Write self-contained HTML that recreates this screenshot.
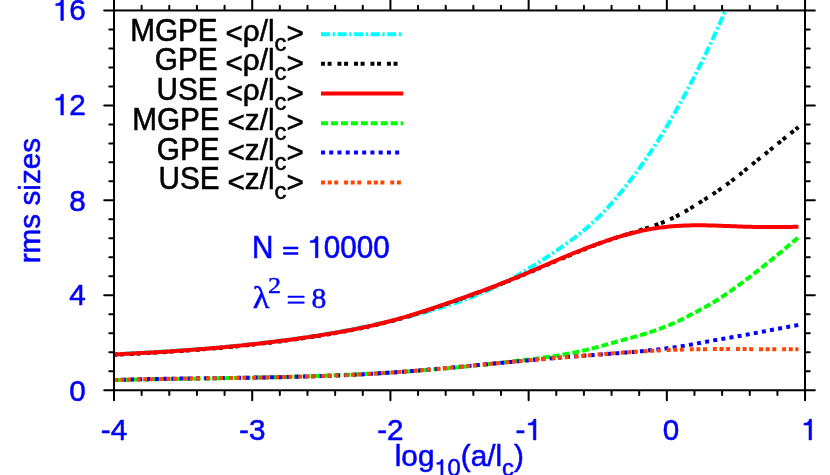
<!DOCTYPE html>
<html><head><meta charset="utf-8"><title>rms sizes</title>
<style>
html,body{margin:0;padding:0;background:#fff;overflow:hidden}
svg{display:block;will-change:transform}
text{font-kerning:none;font-family:"Liberation Sans",sans-serif;font-size:29.7px;stroke-width:0.55px;stroke-linejoin:round}
.ser{font-family:"Liberation Serif",serif;stroke-width:0.45px}
.h,.g{fill:none;stroke:none}
.one{stroke-width:0.55px;stroke-linejoin:round}
</style></head>
<body>
<svg width="830" height="475" viewBox="0 0 830 475">
<rect width="830" height="475" fill="#fff"/>
<g stroke-linecap="butt" stroke-linejoin="round">
<path d="M113.6 354.22 L115.6 354.12 L117.6 354.03 L119.6 353.93 L121.6 353.84 L123.6 353.74 L125.6 353.64 L127.6 353.54 L129.6 353.44 L131.6 353.34 L133.6 353.23 L135.6 353.13 L137.6 353.02 L139.6 352.92 L141.6 352.81 L143.6 352.70 L145.6 352.59 L147.6 352.48 L149.6 352.36 L151.6 352.25 L153.6 352.13 L155.6 352.02 L157.6 351.90 L159.6 351.78 L161.6 351.65 L163.6 351.53 L165.6 351.41 L167.6 351.28 L169.6 351.15 L171.6 351.02 L173.6 350.89 L175.6 350.76 L177.6 350.62 L179.6 350.49 L181.6 350.35 L183.6 350.21 L185.6 350.07 L187.6 349.92 L189.6 349.78 L191.6 349.63 L193.6 349.48 L195.6 349.33 L197.6 349.17 L199.6 349.02 L201.6 348.86 L203.6 348.70 L205.6 348.54 L207.6 348.38 L209.6 348.21 L211.6 348.04 L213.6 347.87 L215.6 347.70 L217.6 347.53 L219.6 347.35 L221.6 347.17 L223.6 346.99 L225.6 346.81 L227.6 346.62 L229.6 346.43 L231.6 346.24 L233.6 346.05 L235.6 345.85 L237.6 345.65 L239.6 345.45 L241.6 345.25 L243.6 345.04 L245.6 344.83 L247.6 344.62 L249.6 344.41 L251.6 344.19 L253.6 343.97 L255.6 343.75 L257.6 343.52 L259.6 343.30 L261.6 343.07 L263.6 342.83 L265.6 342.60 L267.6 342.36 L269.6 342.12 L271.6 341.87 L273.6 341.62 L275.6 341.37 L277.6 341.12 L279.6 340.86 L281.6 340.60 L283.6 340.34 L285.6 340.07 L287.6 339.80 L289.6 339.53 L291.6 339.25 L293.6 338.97 L295.6 338.69 L297.6 338.41 L299.6 338.12 L301.6 337.82 L303.6 337.53 L305.6 337.23 L307.6 336.93 L309.6 336.62 L311.6 336.31 L313.6 336.00 L315.6 335.68 L317.6 335.36 L319.6 335.04 L321.6 334.71 L323.6 334.38 L325.6 334.04 L327.6 333.71 L329.6 333.36 L331.6 333.02 L333.6 332.67 L335.6 332.31 L337.6 331.96 L339.6 331.60 L341.6 331.23 L343.6 330.86 L345.6 330.49 L347.6 330.11 L349.6 329.73 L351.6 329.35 L353.6 328.96 L355.6 328.57 L357.6 328.17 L359.6 327.77 L361.6 327.36 L363.6 326.95 L365.6 326.54 L367.6 326.12 L369.6 325.70 L371.6 325.27 L373.6 324.84 L375.6 324.41 L377.6 323.97 L379.6 323.53 L381.6 323.08 L383.6 322.63 L385.6 322.17 L387.6 321.71 L389.6 321.24 L391.6 320.77 L393.6 320.30 L395.6 319.82 L397.6 319.33 L399.6 318.84 L401.6 318.35 L403.6 317.85 L405.6 317.35 L407.6 316.84 L409.6 316.33 L411.6 315.81 L413.6 315.29 L415.6 314.76 L417.6 314.23 L419.6 313.70 L421.6 313.16 L423.6 312.61 L425.6 312.06 L427.6 311.50 L429.6 310.94 L431.6 310.37 L433.6 309.80 L435.6 309.22 L437.6 308.63 L439.6 308.03 L441.6 307.43 L443.6 306.82 L445.6 306.20 L447.6 305.57 L449.6 304.94 L451.6 304.29 L453.6 303.63 L455.6 302.96 L457.6 302.29 L459.6 301.60 L461.6 300.90 L463.6 300.19 L465.6 299.46 L467.6 298.73 L469.6 297.98 L471.6 297.22 L473.6 296.44 L475.6 295.65 L477.6 294.85 L479.6 294.03 L481.6 293.19 L483.6 292.34 L485.6 291.48 L487.6 290.60 L489.6 289.70 L491.6 288.78 L493.6 287.85 L495.6 286.90 L497.6 285.93 L499.6 284.95 L501.6 283.94 L503.6 282.92 L505.6 281.87 L507.6 280.81 L509.6 279.73 L511.6 278.63 L513.6 277.51 L515.6 276.37 L517.6 275.22 L519.6 274.06 L521.6 272.88 L523.6 271.69 L525.6 270.49 L527.6 269.28 L529.6 268.05 L531.6 266.82 L533.6 265.58 L535.6 264.34 L537.6 263.08 L539.6 261.81 L541.6 260.53 L543.6 259.25 L545.6 257.95 L547.6 256.64 L549.6 255.32 L551.6 253.99 L553.6 252.65 L555.6 251.30 L557.6 249.93 L559.6 248.55 L561.6 247.16 L563.6 245.76 L565.6 244.35 L567.6 242.92 L569.6 241.47 L571.6 240.00 L573.6 238.51 L575.6 237.00 L577.6 235.46 L579.6 233.89 L581.6 232.29 L583.6 230.66 L585.6 229.00 L587.6 227.29 L589.6 225.55 L591.6 223.77 L593.6 221.94 L595.6 220.07 L597.6 218.14 L599.6 216.17 L601.6 214.15 L603.6 212.07 L605.6 209.95 L607.6 207.77 L609.6 205.56 L611.6 203.29 L613.6 200.99 L615.6 198.65 L617.6 196.26 L619.6 193.85 L621.6 191.40 L623.6 188.91 L625.6 186.40 L627.6 183.86 L629.6 181.28 L631.6 178.67 L633.6 176.03 L635.6 173.36 L637.6 170.64 L639.6 167.89 L641.6 165.10 L643.6 162.28 L645.6 159.41 L647.6 156.50 L649.6 153.54 L651.6 150.54 L653.6 147.51 L655.6 144.42 L657.6 141.30 L659.6 138.14 L661.6 134.93 L663.6 131.68 L665.6 128.39 L667.6 125.06 L669.6 121.69 L671.6 118.28 L673.6 114.83 L675.6 111.34 L677.6 107.80 L679.6 104.23 L681.6 100.61 L683.6 96.96 L685.6 93.27 L687.6 89.53 L689.6 85.75 L691.6 81.94 L693.6 78.08 L695.6 74.18 L697.6 70.23 L699.6 66.25 L701.6 62.22 L703.6 58.14 L705.6 54.02 L707.6 49.85 L709.6 45.64 L711.6 41.37 L713.6 37.06 L715.6 32.70 L717.6 28.29 L719.6 23.82 L721.6 19.31 L723.6 14.74 L725.0 11.50" stroke="#00ffff" stroke-width="4.0" stroke-dasharray="9 2.65 2.3 2.65" stroke-dashoffset="4.1" fill="none"/>
<path d="M113.6 354.76 L115.6 354.67 L117.6 354.58 L119.6 354.49 L121.6 354.40 L123.6 354.30 L125.6 354.21 L127.6 354.11 L129.6 354.01 L131.6 353.92 L133.6 353.81 L135.6 353.71 L137.6 353.61 L139.6 353.50 L141.6 353.40 L143.6 353.29 L145.6 353.18 L147.6 353.07 L149.6 352.96 L151.6 352.84 L153.6 352.73 L155.6 352.61 L157.6 352.49 L159.6 352.37 L161.6 352.25 L163.6 352.13 L165.6 352.00 L167.6 351.87 L169.6 351.74 L171.6 351.61 L173.6 351.48 L175.6 351.35 L177.6 351.21 L179.6 351.07 L181.6 350.93 L183.6 350.79 L185.6 350.65 L187.6 350.50 L189.6 350.35 L191.6 350.21 L193.6 350.05 L195.6 349.90 L197.6 349.75 L199.6 349.59 L201.6 349.43 L203.6 349.27 L205.6 349.10 L207.6 348.94 L209.6 348.77 L211.6 348.60 L213.6 348.43 L215.6 348.25 L217.6 348.08 L219.6 347.90 L221.6 347.72 L223.6 347.53 L225.6 347.35 L227.6 347.16 L229.6 346.97 L231.6 346.78 L233.6 346.58 L235.6 346.39 L237.6 346.19 L239.6 345.98 L241.6 345.78 L243.6 345.57 L245.6 345.36 L247.6 345.15 L249.6 344.94 L251.6 344.72 L253.6 344.50 L255.6 344.28 L257.6 344.05 L259.6 343.83 L261.6 343.60 L263.6 343.36 L265.6 343.13 L267.6 342.89 L269.6 342.65 L271.6 342.41 L273.6 342.16 L275.6 341.91 L277.6 341.66 L279.6 341.41 L281.6 341.15 L283.6 340.89 L285.6 340.63 L287.6 340.36 L289.6 340.09 L291.6 339.82 L293.6 339.55 L295.6 339.27 L297.6 338.99 L299.6 338.71 L301.6 338.42 L303.6 338.13 L305.6 337.84 L307.6 337.54 L309.6 337.24 L311.6 336.94 L313.6 336.64 L315.6 336.33 L317.6 336.02 L319.6 335.70 L321.6 335.39 L323.6 335.06 L325.6 334.74 L327.6 334.41 L329.6 334.08 L331.6 333.75 L333.6 333.41 L335.6 333.06 L337.6 332.71 L339.6 332.36 L341.6 332.00 L343.6 331.64 L345.6 331.27 L347.6 330.90 L349.6 330.52 L351.6 330.14 L353.6 329.75 L355.6 329.35 L357.6 328.95 L359.6 328.55 L361.6 328.13 L363.6 327.71 L365.6 327.29 L367.6 326.85 L369.6 326.41 L371.6 325.97 L373.6 325.51 L375.6 325.05 L377.6 324.58 L379.6 324.10 L381.6 323.62 L383.6 323.13 L385.6 322.63 L387.6 322.12 L389.6 321.60 L391.6 321.07 L393.6 320.54 L395.6 320.00 L397.6 319.45 L399.6 318.89 L401.6 318.32 L403.6 317.75 L405.6 317.17 L407.6 316.58 L409.6 315.98 L411.6 315.38 L413.6 314.77 L415.6 314.16 L417.6 313.53 L419.6 312.91 L421.6 312.27 L423.6 311.63 L425.6 310.99 L427.6 310.34 L429.6 309.68 L431.6 309.02 L433.6 308.36 L435.6 307.69 L437.6 307.01 L439.6 306.33 L441.6 305.65 L443.6 304.96 L445.6 304.27 L447.6 303.58 L449.6 302.88 L451.6 302.18 L453.6 301.47 L455.6 300.77 L457.6 300.06 L459.6 299.35 L461.6 298.63 L463.6 297.91 L465.6 297.20 L467.6 296.47 L469.6 295.75 L471.6 295.02 L473.6 294.29 L475.6 293.56 L477.6 292.82 L479.6 292.08 L481.6 291.34 L483.6 290.59 L485.6 289.85 L487.6 289.09 L489.6 288.33 L491.6 287.57 L493.6 286.81 L495.6 286.04 L497.6 285.27 L499.6 284.49 L501.6 283.71 L503.6 282.92 L505.6 282.13 L507.6 281.34 L509.6 280.53 L511.6 279.73 L513.6 278.92 L515.6 278.10 L517.6 277.28 L519.6 276.46 L521.6 275.63 L523.6 274.80 L525.6 273.96 L527.6 273.12 L529.6 272.28 L531.6 271.43 L533.6 270.58 L535.6 269.73 L537.6 268.88 L539.6 268.03 L541.6 267.18 L543.6 266.32 L545.6 265.47 L547.6 264.61 L549.6 263.76 L551.6 262.91 L553.6 262.05 L555.6 261.20 L557.6 260.35 L559.6 259.50 L561.6 258.66 L563.6 257.82 L565.6 256.98 L567.6 256.14 L569.6 255.31 L571.6 254.48 L573.6 253.65 L575.6 252.83 L577.6 252.02 L579.6 251.21 L581.6 250.41 L583.6 249.61 L585.6 248.81 L587.6 248.03 L589.6 247.25 L591.6 246.48 L593.6 245.72 L595.6 244.96 L597.6 244.21 L599.6 243.47 L601.6 242.74 L603.6 242.02 L605.6 241.31 L607.6 240.61 L609.6 239.91 L611.6 239.23 L613.6 238.56 L615.6 237.90 L617.6 237.25 L619.6 236.61 L621.6 235.98 L623.6 235.35 L625.6 234.73 L627.6 234.11 L629.6 233.50 L631.6 232.88 L633.6 232.26 L635.6 231.65 L637.6 231.02 L639.6 230.40 L641.6 229.77 L643.6 229.13 L645.6 228.48 L647.6 227.82 L649.6 227.15 L651.6 226.47 L653.6 225.77 L655.6 225.06 L657.6 224.33 L659.6 223.59 L661.6 222.82 L663.6 222.03 L665.6 221.21 L667.6 220.36 L669.6 219.48 L671.6 218.57 L673.6 217.63 L675.6 216.64 L677.6 215.62 L679.6 214.56 L681.6 213.47 L683.6 212.35 L685.6 211.20 L687.6 210.03 L689.6 208.84 L691.6 207.63 L693.6 206.40 L695.6 205.15 L697.6 203.90 L699.6 202.64 L701.6 201.37 L703.6 200.10 L705.6 198.83 L707.6 197.55 L709.6 196.27 L711.6 194.97 L713.6 193.67 L715.6 192.34 L717.6 191.00 L719.6 189.64 L721.6 188.26 L723.6 186.85 L725.6 185.41 L727.6 183.95 L729.6 182.47 L731.6 180.96 L733.6 179.43 L735.6 177.87 L737.6 176.29 L739.6 174.69 L741.6 173.06 L743.6 171.43 L745.6 169.79 L747.6 168.15 L749.6 166.51 L751.6 164.89 L753.6 163.27 L755.6 161.66 L757.6 160.05 L759.6 158.45 L761.6 156.84 L763.6 155.24 L765.6 153.63 L767.6 152.02 L769.6 150.40 L771.6 148.78 L773.6 147.15 L775.6 145.53 L777.6 143.90 L779.6 142.28 L781.6 140.65 L783.6 139.03 L785.6 137.41 L787.6 135.79 L789.6 134.18 L791.6 132.58 L793.6 130.98 L795.6 129.40 L797.6 127.82 L798.4 127.19" stroke="#000" stroke-width="4.0" stroke-dasharray="3.95 2.67 3.95 5.92" fill="none"/>
<path d="M113.6 354.41 L115.6 354.32 L117.6 354.23 L119.6 354.14 L121.6 354.05 L123.6 353.95 L125.6 353.86 L127.6 353.76 L129.6 353.67 L131.6 353.57 L133.6 353.47 L135.6 353.37 L137.6 353.26 L139.6 353.16 L141.6 353.05 L143.6 352.94 L145.6 352.84 L147.6 352.72 L149.6 352.61 L151.6 352.50 L153.6 352.38 L155.6 352.27 L157.6 352.15 L159.6 352.03 L161.6 351.90 L163.6 351.78 L165.6 351.65 L167.6 351.53 L169.6 351.40 L171.6 351.27 L173.6 351.13 L175.6 351.00 L177.6 350.86 L179.6 350.73 L181.6 350.59 L183.6 350.44 L185.6 350.30 L187.6 350.15 L189.6 350.01 L191.6 349.86 L193.6 349.71 L195.6 349.55 L197.6 349.40 L199.6 349.24 L201.6 349.08 L203.6 348.92 L205.6 348.75 L207.6 348.59 L209.6 348.42 L211.6 348.25 L213.6 348.08 L215.6 347.90 L217.6 347.72 L219.6 347.55 L221.6 347.36 L223.6 347.18 L225.6 347.00 L227.6 346.81 L229.6 346.62 L231.6 346.42 L233.6 346.23 L235.6 346.03 L237.6 345.83 L239.6 345.63 L241.6 345.42 L243.6 345.22 L245.6 345.01 L247.6 344.80 L249.6 344.58 L251.6 344.36 L253.6 344.14 L255.6 343.92 L257.6 343.70 L259.6 343.47 L261.6 343.24 L263.6 343.01 L265.6 342.77 L267.6 342.54 L269.6 342.29 L271.6 342.05 L273.6 341.81 L275.6 341.56 L277.6 341.31 L279.6 341.05 L281.6 340.79 L283.6 340.53 L285.6 340.27 L287.6 340.01 L289.6 339.74 L291.6 339.47 L293.6 339.19 L295.6 338.92 L297.6 338.64 L299.6 338.35 L301.6 338.07 L303.6 337.78 L305.6 337.49 L307.6 337.19 L309.6 336.89 L311.6 336.59 L313.6 336.29 L315.6 335.98 L317.6 335.67 L319.6 335.36 L321.6 335.04 L323.6 334.72 L325.6 334.40 L327.6 334.07 L329.6 333.74 L331.6 333.40 L333.6 333.06 L335.6 332.72 L337.6 332.37 L339.6 332.02 L341.6 331.66 L343.6 331.30 L345.6 330.94 L347.6 330.56 L349.6 330.19 L351.6 329.80 L353.6 329.41 L355.6 329.02 L357.6 328.62 L359.6 328.21 L361.6 327.80 L363.6 327.38 L365.6 326.95 L367.6 326.52 L369.6 326.08 L371.6 325.63 L373.6 325.18 L375.6 324.71 L377.6 324.24 L379.6 323.77 L381.6 323.28 L383.6 322.79 L385.6 322.28 L387.6 321.77 L389.6 321.25 L391.6 320.73 L393.6 320.19 L395.6 319.64 L397.6 319.09 L399.6 318.53 L401.6 317.96 L403.6 317.38 L405.6 316.80 L407.6 316.21 L409.6 315.61 L411.6 315.01 L413.6 314.39 L415.6 313.78 L417.6 313.15 L419.6 312.52 L421.6 311.88 L423.6 311.24 L425.6 310.60 L427.6 309.94 L429.6 309.29 L431.6 308.62 L433.6 307.96 L435.6 307.29 L437.6 306.61 L439.6 305.93 L441.6 305.25 L443.6 304.56 L445.6 303.87 L447.6 303.18 L449.6 302.48 L451.6 301.78 L453.6 301.08 L455.6 300.38 L457.6 299.67 L459.6 298.97 L461.6 298.26 L463.6 297.55 L465.6 296.83 L467.6 296.12 L469.6 295.40 L471.6 294.68 L473.6 293.96 L475.6 293.23 L477.6 292.50 L479.6 291.77 L481.6 291.03 L483.6 290.30 L485.6 289.55 L487.6 288.81 L489.6 288.05 L491.6 287.30 L493.6 286.54 L495.6 285.78 L497.6 285.01 L499.6 284.23 L501.6 283.45 L503.6 282.67 L505.6 281.88 L507.6 281.08 L509.6 280.28 L511.6 279.48 L513.6 278.66 L515.6 277.84 L517.6 277.02 L519.6 276.18 L521.6 275.35 L523.6 274.51 L525.6 273.66 L527.6 272.81 L529.6 271.96 L531.6 271.10 L533.6 270.24 L535.6 269.38 L537.6 268.51 L539.6 267.65 L541.6 266.78 L543.6 265.91 L545.6 265.05 L547.6 264.18 L549.6 263.32 L551.6 262.45 L553.6 261.59 L555.6 260.73 L557.6 259.88 L559.6 259.02 L561.6 258.17 L563.6 257.33 L565.6 256.49 L567.6 255.66 L569.6 254.83 L571.6 254.01 L573.6 253.20 L575.6 252.39 L577.6 251.59 L579.6 250.79 L581.6 250.00 L583.6 249.22 L585.6 248.45 L587.6 247.68 L589.6 246.92 L591.6 246.17 L593.6 245.42 L595.6 244.69 L597.6 243.96 L599.6 243.24 L601.6 242.53 L603.6 241.83 L605.6 241.14 L607.6 240.45 L609.6 239.78 L611.6 239.12 L613.6 238.47 L615.6 237.84 L617.6 237.21 L619.6 236.60 L621.6 236.00 L623.6 235.41 L625.6 234.84 L627.6 234.28 L629.6 233.74 L631.6 233.21 L633.6 232.70 L635.6 232.20 L637.6 231.72 L639.6 231.26 L641.6 230.81 L643.6 230.38 L645.6 229.97 L647.6 229.58 L649.6 229.21 L651.6 228.86 L653.6 228.53 L655.6 228.21 L657.6 227.92 L659.6 227.64 L661.6 227.38 L663.6 227.14 L665.6 226.91 L667.6 226.70 L669.6 226.51 L671.6 226.33 L673.6 226.17 L675.6 226.03 L677.6 225.89 L679.6 225.78 L681.6 225.67 L683.6 225.58 L685.6 225.51 L687.6 225.45 L689.6 225.39 L691.6 225.36 L693.6 225.33 L695.6 225.31 L697.6 225.30 L699.6 225.31 L701.6 225.32 L703.6 225.34 L705.6 225.37 L707.6 225.41 L709.6 225.45 L711.6 225.50 L713.6 225.55 L715.6 225.61 L717.6 225.68 L719.6 225.75 L721.6 225.82 L723.6 225.89 L725.6 225.96 L727.6 226.04 L729.6 226.12 L731.6 226.20 L733.6 226.27 L735.6 226.35 L737.6 226.42 L739.6 226.50 L741.6 226.56 L743.6 226.63 L745.6 226.69 L747.6 226.75 L749.6 226.80 L751.6 226.85 L753.6 226.89 L755.6 226.93 L757.6 226.97 L759.6 227.00 L761.6 227.02 L763.6 227.04 L765.6 227.06 L767.6 227.07 L769.6 227.08 L771.6 227.08 L773.6 227.08 L775.6 227.08 L777.6 227.07 L779.6 227.05 L781.6 227.04 L783.6 227.02 L785.6 226.99 L787.6 226.96 L789.6 226.93 L791.6 226.89 L793.6 226.85 L795.6 226.81 L797.6 226.76 L798.4 226.74" stroke="#ff0000" stroke-width="4.0" fill="none"/>
<path d="M113.6 380.00 L115.6 379.96 L117.6 379.92 L119.6 379.88 L121.6 379.84 L123.6 379.80 L125.6 379.76 L127.6 379.73 L129.6 379.69 L131.6 379.65 L133.6 379.62 L135.6 379.58 L137.6 379.55 L139.6 379.51 L141.6 379.48 L143.6 379.44 L145.6 379.41 L147.6 379.38 L149.6 379.34 L151.6 379.31 L153.6 379.28 L155.6 379.25 L157.6 379.22 L159.6 379.18 L161.6 379.15 L163.6 379.12 L165.6 379.09 L167.6 379.06 L169.6 379.03 L171.6 379.00 L173.6 378.97 L175.6 378.94 L177.6 378.91 L179.6 378.88 L181.6 378.85 L183.6 378.82 L185.6 378.79 L187.6 378.76 L189.6 378.73 L191.6 378.70 L193.6 378.67 L195.6 378.64 L197.6 378.60 L199.6 378.57 L201.6 378.54 L203.6 378.51 L205.6 378.48 L207.6 378.45 L209.6 378.42 L211.6 378.39 L213.6 378.35 L215.6 378.32 L217.6 378.29 L219.6 378.26 L221.6 378.22 L223.6 378.19 L225.6 378.16 L227.6 378.12 L229.6 378.09 L231.6 378.05 L233.6 378.02 L235.6 377.98 L237.6 377.95 L239.6 377.91 L241.6 377.87 L243.6 377.83 L245.6 377.80 L247.6 377.76 L249.6 377.72 L251.6 377.68 L253.6 377.64 L255.6 377.60 L257.6 377.56 L259.6 377.51 L261.6 377.47 L263.6 377.43 L265.6 377.38 L267.6 377.34 L269.6 377.29 L271.6 377.25 L273.6 377.20 L275.6 377.15 L277.6 377.10 L279.6 377.05 L281.6 377.00 L283.6 376.95 L285.6 376.90 L287.6 376.85 L289.6 376.79 L291.6 376.74 L293.6 376.68 L295.6 376.62 L297.6 376.57 L299.6 376.51 L301.6 376.45 L303.6 376.39 L305.6 376.33 L307.6 376.26 L309.6 376.20 L311.6 376.13 L313.6 376.07 L315.6 376.00 L317.6 375.93 L319.6 375.86 L321.6 375.79 L323.6 375.72 L325.6 375.65 L327.6 375.57 L329.6 375.50 L331.6 375.42 L333.6 375.34 L335.6 375.27 L337.6 375.19 L339.6 375.10 L341.6 375.02 L343.6 374.94 L345.6 374.85 L347.6 374.76 L349.6 374.67 L351.6 374.58 L353.6 374.49 L355.6 374.40 L357.6 374.30 L359.6 374.21 L361.6 374.11 L363.6 374.01 L365.6 373.91 L367.6 373.81 L369.6 373.70 L371.6 373.60 L373.6 373.49 L375.6 373.38 L377.6 373.27 L379.6 373.16 L381.6 373.05 L383.6 372.93 L385.6 372.82 L387.6 372.70 L389.6 372.58 L391.6 372.45 L393.6 372.33 L395.6 372.20 L397.6 372.08 L399.6 371.95 L401.6 371.81 L403.6 371.68 L405.6 371.55 L407.6 371.41 L409.6 371.27 L411.6 371.13 L413.6 370.99 L415.6 370.84 L417.6 370.69 L419.6 370.54 L421.6 370.39 L423.6 370.24 L425.6 370.09 L427.6 369.93 L429.6 369.77 L431.6 369.61 L433.6 369.44 L435.6 369.28 L437.6 369.11 L439.6 368.94 L441.6 368.77 L443.6 368.59 L445.6 368.42 L447.6 368.24 L449.6 368.06 L451.6 367.87 L453.6 367.69 L455.6 367.50 L457.6 367.31 L459.6 367.11 L461.6 366.92 L463.6 366.72 L465.6 366.52 L467.6 366.32 L469.6 366.12 L471.6 365.91 L473.6 365.70 L475.6 365.49 L477.6 365.28 L479.6 365.07 L481.6 364.85 L483.6 364.64 L485.6 364.42 L487.6 364.20 L489.6 363.98 L491.6 363.76 L493.6 363.53 L495.6 363.31 L497.6 363.08 L499.6 362.86 L501.6 362.63 L503.6 362.40 L505.6 362.18 L507.6 361.95 L509.6 361.72 L511.6 361.49 L513.6 361.26 L515.6 361.03 L517.6 360.80 L519.6 360.56 L521.6 360.33 L523.6 360.10 L525.6 359.86 L527.6 359.63 L529.6 359.38 L531.6 359.14 L533.6 358.90 L535.6 358.64 L537.6 358.39 L539.6 358.13 L541.6 357.87 L543.6 357.60 L545.6 357.33 L547.6 357.05 L549.6 356.76 L551.6 356.47 L553.6 356.17 L555.6 355.86 L557.6 355.54 L559.6 355.22 L561.6 354.89 L563.6 354.55 L565.6 354.20 L567.6 353.84 L569.6 353.47 L571.6 353.09 L573.6 352.70 L575.6 352.29 L577.6 351.88 L579.6 351.45 L581.6 351.01 L583.6 350.56 L585.6 350.10 L587.6 349.62 L589.6 349.13 L591.6 348.62 L593.6 348.11 L595.6 347.58 L597.6 347.04 L599.6 346.49 L601.6 345.93 L603.6 345.38 L605.6 344.81 L607.6 344.25 L609.6 343.68 L611.6 343.12 L613.6 342.56 L615.6 342.01 L617.6 341.46 L619.6 340.91 L621.6 340.37 L623.6 339.83 L625.6 339.29 L627.6 338.75 L629.6 338.21 L631.6 337.66 L633.6 337.11 L635.6 336.55 L637.6 335.98 L639.6 335.41 L641.6 334.82 L643.6 334.23 L645.6 333.62 L647.6 332.99 L649.6 332.35 L651.6 331.70 L653.6 331.03 L655.6 330.35 L657.6 329.65 L659.6 328.92 L661.6 328.18 L663.6 327.42 L665.6 326.64 L667.6 325.84 L669.6 325.01 L671.6 324.16 L673.6 323.28 L675.6 322.38 L677.6 321.46 L679.6 320.50 L681.6 319.52 L683.6 318.51 L685.6 317.48 L687.6 316.43 L689.6 315.37 L691.6 314.30 L693.6 313.25 L695.6 312.20 L697.6 311.15 L699.6 310.09 L701.6 309.03 L703.6 307.95 L705.6 306.86 L707.6 305.74 L709.6 304.60 L711.6 303.43 L713.6 302.23 L715.6 301.00 L717.6 299.74 L719.6 298.45 L721.6 297.14 L723.6 295.81 L725.6 294.45 L727.6 293.08 L729.6 291.69 L731.6 290.28 L733.6 288.86 L735.6 287.43 L737.6 285.99 L739.6 284.53 L741.6 283.06 L743.6 281.58 L745.6 280.08 L747.6 278.58 L749.6 277.06 L751.6 275.53 L753.6 274.00 L755.6 272.45 L757.6 270.89 L759.6 269.32 L761.6 267.74 L763.6 266.15 L765.6 264.56 L767.6 262.95 L769.6 261.34 L771.6 259.71 L773.6 258.08 L775.6 256.44 L777.6 254.79 L779.6 253.14 L781.6 251.48 L783.6 249.81 L785.6 248.13 L787.6 246.45 L789.6 244.76 L791.6 243.06 L793.6 241.36 L795.6 239.65 L797.6 237.94 L798.4 237.26" stroke="#00ff00" stroke-width="4.0" stroke-dasharray="7 3" fill="none"/>
<path d="M113.6 380.00 L115.6 379.94 L117.6 379.88 L119.6 379.83 L121.6 379.77 L123.6 379.72 L125.6 379.66 L127.6 379.61 L129.6 379.56 L131.6 379.51 L133.6 379.47 L135.6 379.42 L137.6 379.37 L139.6 379.33 L141.6 379.28 L143.6 379.24 L145.6 379.20 L147.6 379.16 L149.6 379.12 L151.6 379.08 L153.6 379.04 L155.6 379.01 L157.6 378.97 L159.6 378.93 L161.6 378.90 L163.6 378.87 L165.6 378.83 L167.6 378.80 L169.6 378.77 L171.6 378.74 L173.6 378.71 L175.6 378.68 L177.6 378.65 L179.6 378.62 L181.6 378.59 L183.6 378.56 L185.6 378.53 L187.6 378.50 L189.6 378.48 L191.6 378.45 L193.6 378.42 L195.6 378.40 L197.6 378.37 L199.6 378.35 L201.6 378.32 L203.6 378.30 L205.6 378.27 L207.6 378.25 L209.6 378.22 L211.6 378.20 L213.6 378.17 L215.6 378.15 L217.6 378.12 L219.6 378.10 L221.6 378.07 L223.6 378.05 L225.6 378.02 L227.6 378.00 L229.6 377.97 L231.6 377.94 L233.6 377.92 L235.6 377.89 L237.6 377.86 L239.6 377.84 L241.6 377.81 L243.6 377.78 L245.6 377.75 L247.6 377.72 L249.6 377.69 L251.6 377.66 L253.6 377.63 L255.6 377.60 L257.6 377.57 L259.6 377.54 L261.6 377.51 L263.6 377.47 L265.6 377.44 L267.6 377.40 L269.6 377.37 L271.6 377.33 L273.6 377.29 L275.6 377.25 L277.6 377.21 L279.6 377.17 L281.6 377.13 L283.6 377.09 L285.6 377.05 L287.6 377.00 L289.6 376.96 L291.6 376.91 L293.6 376.87 L295.6 376.82 L297.6 376.77 L299.6 376.72 L301.6 376.66 L303.6 376.61 L305.6 376.56 L307.6 376.50 L309.6 376.44 L311.6 376.38 L313.6 376.32 L315.6 376.26 L317.6 376.20 L319.6 376.13 L321.6 376.07 L323.6 376.00 L325.6 375.93 L327.6 375.86 L329.6 375.79 L331.6 375.71 L333.6 375.64 L335.6 375.56 L337.6 375.48 L339.6 375.40 L341.6 375.32 L343.6 375.23 L345.6 375.15 L347.6 375.06 L349.6 374.97 L351.6 374.87 L353.6 374.78 L355.6 374.68 L357.6 374.59 L359.6 374.48 L361.6 374.38 L363.6 374.28 L365.6 374.17 L367.6 374.06 L369.6 373.95 L371.6 373.84 L373.6 373.72 L375.6 373.60 L377.6 373.48 L379.6 373.36 L381.6 373.24 L383.6 373.11 L385.6 372.98 L387.6 372.85 L389.6 372.71 L391.6 372.58 L393.6 372.44 L395.6 372.29 L397.6 372.15 L399.6 372.00 L401.6 371.85 L403.6 371.70 L405.6 371.55 L407.6 371.39 L409.6 371.24 L411.6 371.08 L413.6 370.91 L415.6 370.75 L417.6 370.59 L419.6 370.42 L421.6 370.25 L423.6 370.08 L425.6 369.91 L427.6 369.74 L429.6 369.56 L431.6 369.39 L433.6 369.21 L435.6 369.03 L437.6 368.85 L439.6 368.67 L441.6 368.49 L443.6 368.31 L445.6 368.12 L447.6 367.94 L449.6 367.75 L451.6 367.57 L453.6 367.38 L455.6 367.19 L457.6 367.01 L459.6 366.82 L461.6 366.63 L463.6 366.44 L465.6 366.25 L467.6 366.06 L469.6 365.87 L471.6 365.68 L473.6 365.49 L475.6 365.30 L477.6 365.10 L479.6 364.91 L481.6 364.72 L483.6 364.53 L485.6 364.34 L487.6 364.15 L489.6 363.96 L491.6 363.77 L493.6 363.58 L495.6 363.39 L497.6 363.21 L499.6 363.02 L501.6 362.83 L503.6 362.64 L505.6 362.46 L507.6 362.27 L509.6 362.09 L511.6 361.90 L513.6 361.72 L515.6 361.53 L517.6 361.35 L519.6 361.17 L521.6 360.99 L523.6 360.80 L525.6 360.62 L527.6 360.44 L529.6 360.27 L531.6 360.09 L533.6 359.91 L535.6 359.73 L537.6 359.56 L539.6 359.38 L541.6 359.21 L543.6 359.03 L545.6 358.86 L547.6 358.69 L549.6 358.52 L551.6 358.34 L553.6 358.17 L555.6 358.01 L557.6 357.84 L559.6 357.67 L561.6 357.51 L563.6 357.34 L565.6 357.18 L567.6 357.01 L569.6 356.85 L571.6 356.69 L573.6 356.53 L575.6 356.37 L577.6 356.21 L579.6 356.06 L581.6 355.90 L583.6 355.75 L585.6 355.59 L587.6 355.44 L589.6 355.29 L591.6 355.14 L593.6 354.99 L595.6 354.84 L597.6 354.69 L599.6 354.54 L601.6 354.40 L603.6 354.25 L605.6 354.10 L607.6 353.95 L609.6 353.81 L611.6 353.66 L613.6 353.51 L615.6 353.35 L617.6 353.20 L619.6 353.04 L621.6 352.89 L623.6 352.73 L625.6 352.57 L627.6 352.40 L629.6 352.23 L631.6 352.06 L633.6 351.89 L635.6 351.71 L637.6 351.53 L639.6 351.35 L641.6 351.16 L643.6 350.97 L645.6 350.77 L647.6 350.57 L649.6 350.36 L651.6 350.15 L653.6 349.93 L655.6 349.71 L657.6 349.48 L659.6 349.24 L661.6 349.00 L663.6 348.76 L665.6 348.50 L667.6 348.24 L669.6 347.97 L671.6 347.70 L673.6 347.42 L675.6 347.13 L677.6 346.83 L679.6 346.52 L681.6 346.21 L683.6 345.88 L685.6 345.55 L687.6 345.21 L689.6 344.86 L691.6 344.50 L693.6 344.14 L695.6 343.76 L697.6 343.38 L699.6 343.00 L701.6 342.61 L703.6 342.23 L705.6 341.85 L707.6 341.48 L709.6 341.11 L711.6 340.75 L713.6 340.40 L715.6 340.05 L717.6 339.70 L719.6 339.36 L721.6 339.02 L723.6 338.68 L725.6 338.34 L727.6 338.00 L729.6 337.67 L731.6 337.33 L733.6 336.99 L735.6 336.65 L737.6 336.30 L739.6 335.95 L741.6 335.60 L743.6 335.24 L745.6 334.88 L747.6 334.52 L749.6 334.15 L751.6 333.78 L753.6 333.40 L755.6 333.03 L757.6 332.65 L759.6 332.27 L761.6 331.89 L763.6 331.50 L765.6 331.12 L767.6 330.74 L769.6 330.35 L771.6 329.97 L773.6 329.58 L775.6 329.20 L777.6 328.82 L779.6 328.44 L781.6 328.06 L783.6 327.68 L785.6 327.31 L787.6 326.94 L789.6 326.57 L791.6 326.20 L793.6 325.84 L795.6 325.48 L797.6 325.13 L798.4 324.99" stroke="#0000ff" stroke-width="4.0" stroke-dasharray="4 4.24" fill="none"/>
<path d="M113.6 380.00 L115.6 379.95 L117.6 379.89 L119.6 379.84 L121.6 379.79 L123.6 379.74 L125.6 379.69 L127.6 379.64 L129.6 379.59 L131.6 379.54 L133.6 379.50 L135.6 379.45 L137.6 379.41 L139.6 379.37 L141.6 379.33 L143.6 379.29 L145.6 379.25 L147.6 379.21 L149.6 379.17 L151.6 379.13 L153.6 379.09 L155.6 379.06 L157.6 379.02 L159.6 378.99 L161.6 378.95 L163.6 378.92 L165.6 378.89 L167.6 378.86 L169.6 378.82 L171.6 378.79 L173.6 378.76 L175.6 378.73 L177.6 378.70 L179.6 378.67 L181.6 378.64 L183.6 378.62 L185.6 378.59 L187.6 378.56 L189.6 378.53 L191.6 378.50 L193.6 378.48 L195.6 378.45 L197.6 378.42 L199.6 378.40 L201.6 378.37 L203.6 378.34 L205.6 378.32 L207.6 378.29 L209.6 378.26 L211.6 378.24 L213.6 378.21 L215.6 378.19 L217.6 378.16 L219.6 378.13 L221.6 378.11 L223.6 378.08 L225.6 378.05 L227.6 378.02 L229.6 378.00 L231.6 377.97 L233.6 377.94 L235.6 377.91 L237.6 377.88 L239.6 377.85 L241.6 377.82 L243.6 377.79 L245.6 377.76 L247.6 377.73 L249.6 377.70 L251.6 377.67 L253.6 377.64 L255.6 377.60 L257.6 377.57 L259.6 377.53 L261.6 377.50 L263.6 377.46 L265.6 377.43 L267.6 377.39 L269.6 377.35 L271.6 377.31 L273.6 377.27 L275.6 377.23 L277.6 377.19 L279.6 377.15 L281.6 377.11 L283.6 377.06 L285.6 377.02 L287.6 376.97 L289.6 376.92 L291.6 376.87 L293.6 376.83 L295.6 376.78 L297.6 376.72 L299.6 376.67 L301.6 376.62 L303.6 376.56 L305.6 376.51 L307.6 376.45 L309.6 376.39 L311.6 376.33 L313.6 376.27 L315.6 376.20 L317.6 376.14 L319.6 376.07 L321.6 376.01 L323.6 375.94 L325.6 375.87 L327.6 375.80 L329.6 375.72 L331.6 375.65 L333.6 375.57 L335.6 375.49 L337.6 375.41 L339.6 375.33 L341.6 375.25 L343.6 375.16 L345.6 375.08 L347.6 374.99 L349.6 374.90 L351.6 374.81 L353.6 374.71 L355.6 374.62 L357.6 374.52 L359.6 374.42 L361.6 374.32 L363.6 374.21 L365.6 374.11 L367.6 374.00 L369.6 373.89 L371.6 373.78 L373.6 373.66 L375.6 373.55 L377.6 373.43 L379.6 373.31 L381.6 373.19 L383.6 373.06 L385.6 372.93 L387.6 372.80 L389.6 372.67 L391.6 372.54 L393.6 372.40 L395.6 372.26 L397.6 372.12 L399.6 371.98 L401.6 371.83 L403.6 371.68 L405.6 371.53 L407.6 371.38 L409.6 371.23 L411.6 371.07 L413.6 370.91 L415.6 370.75 L417.6 370.59 L419.6 370.43 L421.6 370.26 L423.6 370.10 L425.6 369.93 L427.6 369.76 L429.6 369.59 L431.6 369.42 L433.6 369.24 L435.6 369.07 L437.6 368.89 L439.6 368.72 L441.6 368.54 L443.6 368.36 L445.6 368.18 L447.6 367.99 L449.6 367.81 L451.6 367.63 L453.6 367.44 L455.6 367.25 L457.6 367.07 L459.6 366.88 L461.6 366.69 L463.6 366.50 L465.6 366.31 L467.6 366.12 L469.6 365.93 L471.6 365.74 L473.6 365.55 L475.6 365.36 L477.6 365.16 L479.6 364.97 L481.6 364.78 L483.6 364.58 L485.6 364.39 L487.6 364.20 L489.6 364.00 L491.6 363.81 L493.6 363.61 L495.6 363.42 L497.6 363.23 L499.6 363.03 L501.6 362.84 L503.6 362.65 L505.6 362.45 L507.6 362.26 L509.6 362.07 L511.6 361.88 L513.6 361.69 L515.6 361.50 L517.6 361.31 L519.6 361.13 L521.6 360.94 L523.6 360.76 L525.6 360.57 L527.6 360.39 L529.6 360.21 L531.6 360.03 L533.6 359.86 L535.6 359.68 L537.6 359.51 L539.6 359.34 L541.6 359.17 L543.6 359.00 L545.6 358.83 L547.6 358.67 L549.6 358.50 L551.6 358.34 L553.6 358.18 L555.6 358.02 L557.6 357.85 L559.6 357.69 L561.6 357.53 L563.6 357.37 L565.6 357.21 L567.6 357.05 L569.6 356.88 L571.6 356.72 L573.6 356.56 L575.6 356.39 L577.6 356.23 L579.6 356.06 L581.6 355.90 L583.6 355.73 L585.6 355.57 L587.6 355.40 L589.6 355.24 L591.6 355.07 L593.6 354.91 L595.6 354.75 L597.6 354.58 L599.6 354.42 L601.6 354.26 L603.6 354.10 L605.6 353.94 L607.6 353.78 L609.6 353.63 L611.6 353.47 L613.6 353.32 L615.6 353.17 L617.6 353.02 L619.6 352.87 L621.6 352.72 L623.6 352.57 L625.6 352.43 L627.6 352.29 L629.6 352.15 L631.6 352.01 L633.6 351.88 L635.6 351.75 L637.6 351.62 L639.6 351.49 L641.6 351.37 L643.6 351.25 L645.6 351.13 L647.6 351.01 L649.6 350.90 L651.6 350.79 L653.6 350.69 L655.6 350.58 L657.6 350.48 L659.6 350.39 L661.6 350.30 L663.6 350.21 L665.6 350.13 L667.6 350.05 L669.6 349.97 L671.6 349.90 L673.6 349.83 L675.6 349.76 L677.6 349.70 L679.6 349.64 L681.6 349.59 L683.6 349.54 L685.6 349.49 L687.6 349.44 L689.6 349.40 L691.6 349.36 L693.6 349.33 L695.6 349.29 L697.6 349.26 L699.6 349.23 L701.6 349.21 L703.6 349.19 L705.6 349.16 L707.6 349.15 L709.6 349.13 L711.6 349.11 L713.6 349.10 L715.6 349.09 L717.6 349.08 L719.6 349.08 L721.6 349.07 L723.6 349.07 L725.6 349.06 L727.6 349.06 L729.6 349.06 L731.6 349.06 L733.6 349.07 L735.6 349.07 L737.6 349.07 L739.6 349.08 L741.6 349.09 L743.6 349.09 L745.6 349.10 L747.6 349.11 L749.6 349.12 L751.6 349.13 L753.6 349.13 L755.6 349.14 L757.6 349.15 L759.6 349.16 L761.6 349.17 L763.6 349.18 L765.6 349.19 L767.6 349.20 L769.6 349.20 L771.6 349.21 L773.6 349.22 L775.6 349.22 L777.6 349.23 L779.6 349.23 L781.6 349.23 L783.6 349.24 L785.6 349.24 L787.6 349.24 L789.6 349.24 L791.6 349.23 L793.6 349.23 L795.6 349.22 L797.6 349.21 L798.4 349.21" stroke="#ff4500" stroke-width="4.0" stroke-dasharray="3.98 2.64 3.98 2.64 3.98 5.87" fill="none"/>
<path d="M321 34.2 H403.2" stroke="#00ffff" stroke-width="4.0" stroke-dasharray="9 2.65 2.3 2.6" fill="none"/>
<path d="M321 63.8 H403.2" stroke="#000" stroke-width="4.0" stroke-dasharray="3.95 2.67 3.95 5.92" fill="none"/>
<path d="M321 93.6 H403.2" stroke="#ff0000" stroke-width="4.0" fill="none"/>
<path d="M321 123.2 H403.2" stroke="#00ff00" stroke-width="4.0" stroke-dasharray="7 2.95" fill="none"/>
<path d="M321 152.6 H403.2" stroke="#0000ff" stroke-width="4.0" stroke-dasharray="4 4.24" fill="none"/>
<path d="M321 182.5 H403.2" stroke="#ff4500" stroke-width="4.0" stroke-dasharray="3.98 2.64 3.98 2.64 3.98 5.87" fill="none"/>
</g>
<g stroke-linecap="butt">
<rect x="114.0" y="10.45" width="691.0" height="379.8" fill="none" stroke="#000" stroke-width="2"/>
<path d="M114.00 391.25 v8.9 M114.00 9.45 v-8.9 M141.64 391.25 v3.7 M141.64 9.45 v-3.7 M169.28 391.25 v3.7 M169.28 9.45 v-3.7 M196.93 391.25 v3.7 M196.93 9.45 v-3.7 M224.57 391.25 v3.7 M224.57 9.45 v-3.7 M252.21 391.25 v8.9 M252.21 9.45 v-8.9 M279.85 391.25 v3.7 M279.85 9.45 v-3.7 M307.49 391.25 v3.7 M307.49 9.45 v-3.7 M335.14 391.25 v3.7 M335.14 9.45 v-3.7 M362.78 391.25 v3.7 M362.78 9.45 v-3.7 M390.42 391.25 v8.9 M390.42 9.45 v-8.9 M418.06 391.25 v3.7 M418.06 9.45 v-3.7 M445.70 391.25 v3.7 M445.70 9.45 v-3.7 M473.35 391.25 v3.7 M473.35 9.45 v-3.7 M500.99 391.25 v3.7 M500.99 9.45 v-3.7 M528.63 391.25 v8.9 M528.63 9.45 v-8.9 M556.27 391.25 v3.7 M556.27 9.45 v-3.7 M583.91 391.25 v3.7 M583.91 9.45 v-3.7 M611.56 391.25 v3.7 M611.56 9.45 v-3.7 M639.20 391.25 v3.7 M639.20 9.45 v-3.7 M666.84 391.25 v8.9 M666.84 9.45 v-8.9 M694.48 391.25 v3.7 M694.48 9.45 v-3.7 M722.12 391.25 v3.7 M722.12 9.45 v-3.7 M749.77 391.25 v3.7 M749.77 9.45 v-3.7 M777.41 391.25 v3.7 M777.41 9.45 v-3.7 M805.05 391.25 v8.9 M805.05 9.45 v-8.9 M113.0 390.25 h-8.8 M806.05 390.25 h8.8 M113.0 371.26 h-3.7 M806.05 371.26 h3.7 M113.0 352.27 h-3.7 M806.05 352.27 h3.7 M113.0 333.28 h-3.7 M806.05 333.28 h3.7 M113.0 314.29 h-3.7 M806.05 314.29 h3.7 M113.0 295.30 h-8.8 M806.05 295.30 h8.8 M113.0 276.31 h-3.7 M806.05 276.31 h3.7 M113.0 257.32 h-3.7 M806.05 257.32 h3.7 M113.0 238.33 h-3.7 M806.05 238.33 h3.7 M113.0 219.34 h-3.7 M806.05 219.34 h3.7 M113.0 200.35 h-8.8 M806.05 200.35 h8.8 M113.0 181.36 h-3.7 M806.05 181.36 h3.7 M113.0 162.37 h-3.7 M806.05 162.37 h3.7 M113.0 143.38 h-3.7 M806.05 143.38 h3.7 M113.0 124.39 h-3.7 M806.05 124.39 h3.7 M113.0 105.40 h-8.8 M806.05 105.40 h8.8 M113.0 86.41 h-3.7 M806.05 86.41 h3.7 M113.0 67.42 h-3.7 M806.05 67.42 h3.7 M113.0 48.43 h-3.7 M806.05 48.43 h3.7 M113.0 29.44 h-3.7 M806.05 29.44 h3.7 M113.0 10.45 h-8.8 M806.05 10.45 h8.8" stroke="#000" stroke-width="2.0" stroke-linecap="round" fill="none"/>
</g>
<g>
<text transform="translate(85.8 401.1) scale(1 1.015)" text-anchor="end" fill="#0000ff" stroke="#0000ff">0</text>
<text transform="translate(85.8 305.3) scale(1 1.015)" text-anchor="end" fill="#0000ff" stroke="#0000ff">4</text>
<text transform="translate(85.8 210.8) scale(1 1.015)" text-anchor="end" fill="#0000ff" stroke="#0000ff">8</text>
<text id="t0" transform="translate(85.8 115.0) scale(1 1.015)" text-anchor="end" fill="#0000ff" stroke="#0000ff"><tspan class="h">1</tspan>2</text>
<text id="t1" transform="translate(85.8 20.4) scale(1 1.015)" text-anchor="end" fill="#0000ff" stroke="#0000ff"><tspan class="h">1</tspan>6</text>
<text transform="translate(114.0 439.9) scale(1 1.015)" text-anchor="middle" fill="#0000ff" stroke="#0000ff">-4</text>
<text transform="translate(252.2 439.9) scale(1 1.015)" text-anchor="middle" fill="#0000ff" stroke="#0000ff">-3</text>
<text transform="translate(390.4 439.9) scale(1 1.015)" text-anchor="middle" fill="#0000ff" stroke="#0000ff">-2</text>
<text id="t2" transform="translate(528.6 439.9) scale(1 1.015)" text-anchor="middle" fill="#0000ff" stroke="#0000ff">-<tspan class="h">1</tspan></text>
<text transform="translate(671.0 439.9) scale(1 1.015)" text-anchor="middle" fill="#0000ff" stroke="#0000ff">0</text>
<text id="t3" transform="translate(809.2 439.9) scale(1 1.015)" text-anchor="middle" fill="#0000ff" stroke="#0000ff"><tspan class="h">1</tspan></text>
<text id="t4" transform="translate(459.3 465.9) scale(1 0.99)" text-anchor="middle" fill="#0000ff" stroke="#0000ff">log<tspan font-size="23.76" dy="10.01"><tspan class="h">1</tspan>0</tspan><tspan dy="-10.01">(a/l</tspan><tspan font-size="23.76" dy="10.01">c</tspan><tspan dy="-10.01">)</tspan></text>
<text transform="translate(40.3 200.6) rotate(-90) scale(1 0.99)" text-anchor="middle" fill="#0000ff" stroke="#0000ff">rms sizes</text>
<text transform="translate(217.6 40.6) scale(1 1.044)" text-anchor="end" fill="#000" stroke="#000">MGPE</text>
<text transform="translate(303.8 40.6) scale(1 0.99)" text-anchor="end" fill="#000" stroke="#000"><tspan dy="2.42">&lt;</tspan><tspan dy="-2.42">ρ/l</tspan><tspan font-size="23.76" dy="10.01">c</tspan><tspan dy="-7.59">&gt;</tspan></text>
<text transform="translate(217.6 70.3) scale(1 1.044)" text-anchor="end" fill="#000" stroke="#000">GPE</text>
<text transform="translate(303.8 70.3) scale(1 0.99)" text-anchor="end" fill="#000" stroke="#000"><tspan dy="2.42">&lt;</tspan><tspan dy="-2.42">ρ/l</tspan><tspan font-size="23.76" dy="10.01">c</tspan><tspan dy="-7.59">&gt;</tspan></text>
<text transform="translate(217.6 100.1) scale(1 1.044)" text-anchor="end" fill="#000" stroke="#000">USE</text>
<text transform="translate(303.8 100.1) scale(1 0.99)" text-anchor="end" fill="#000" stroke="#000"><tspan dy="2.42">&lt;</tspan><tspan dy="-2.42">ρ/l</tspan><tspan font-size="23.76" dy="10.01">c</tspan><tspan dy="-7.59">&gt;</tspan></text>
<text transform="translate(219.6 129.8) scale(1 1.044)" text-anchor="end" fill="#000" stroke="#000">MGPE</text>
<text transform="translate(303.8 129.8) scale(1 0.99)" text-anchor="end" fill="#000" stroke="#000"><tspan dy="2.42">&lt;</tspan><tspan dy="-2.42">z/l</tspan><tspan font-size="23.76" dy="10.01">c</tspan><tspan dy="-7.59">&gt;</tspan></text>
<text transform="translate(219.6 159.6) scale(1 1.044)" text-anchor="end" fill="#000" stroke="#000">GPE</text>
<text transform="translate(303.8 159.6) scale(1 0.99)" text-anchor="end" fill="#000" stroke="#000"><tspan dy="2.42">&lt;</tspan><tspan dy="-2.42">z/l</tspan><tspan font-size="23.76" dy="10.01">c</tspan><tspan dy="-7.59">&gt;</tspan></text>
<text transform="translate(219.6 189.3) scale(1 1.044)" text-anchor="end" fill="#000" stroke="#000">USE</text>
<text transform="translate(303.8 189.3) scale(1 0.99)" text-anchor="end" fill="#000" stroke="#000"><tspan dy="2.42">&lt;</tspan><tspan dy="-2.42">z/l</tspan><tspan font-size="23.76" dy="10.01">c</tspan><tspan dy="-7.59">&gt;</tspan></text>
<text id="t5" transform="translate(252.0 257.7) scale(1 1.035)" fill="#0000ff" stroke="#0000ff">N <tspan class="g">=</tspan> <tspan class="h">1</tspan>0000</text>
<path d="M283.2 248.1H298.2M283.2 253.5H298.2" stroke="#0000ff" stroke-width="2.5" fill="none"/>
<text transform="translate(252.8 308.2) scale(1.16 1.07)" class="ser" fill="#0000ff" stroke="#0000ff">λ</text>
<text transform="translate(268.0 292.6) scale(1.1 1.0)" class="ser" style="font-size:23.76px" fill="#0000ff" stroke="#0000ff">2</text>
<text transform="translate(286.3 310.3) scale(1.17 1.0)" class="ser" fill="#0000ff" stroke="#0000ff">=</text>
<text transform="translate(311.6 308.2) scale(1.0 1.0)" class="ser" fill="#0000ff" stroke="#0000ff">8</text>
</g>
<g>
<path class="one" transform="translate(85.8 115.0) scale(1 1.015) translate(-33.03 0.00) scale(0.02970)" d="M359 0H271V-492H101V-553C200 -557 262 -582 289 -690H359Z" fill="#0000ff" stroke="#0000ff" vector-effect="non-scaling-stroke"/>
<path class="one" transform="translate(85.8 20.4) scale(1 1.015) translate(-33.03 0.00) scale(0.02970)" d="M359 0H271V-492H101V-553C200 -557 262 -582 289 -690H359Z" fill="#0000ff" stroke="#0000ff" vector-effect="non-scaling-stroke"/>
<path class="one" transform="translate(528.6 439.9) scale(1 1.015) translate(-3.31 0.00) scale(0.02970)" d="M359 0H271V-492H101V-553C200 -557 262 -582 289 -690H359Z" fill="#0000ff" stroke="#0000ff" vector-effect="non-scaling-stroke"/>
<path class="one" transform="translate(809.2 439.9) scale(1 1.015) translate(-8.26 0.00) scale(0.02970)" d="M359 0H271V-492H101V-553C200 -557 262 -582 289 -690H359Z" fill="#0000ff" stroke="#0000ff" vector-effect="non-scaling-stroke"/>
<path class="one" transform="translate(459.3 465.9) scale(1 0.99) translate(-24.90 10.01) scale(0.02376)" d="M359 0H271V-492H101V-553C200 -557 262 -582 289 -690H359Z" fill="#0000ff" stroke="#0000ff" vector-effect="non-scaling-stroke"/>
<path class="one" transform="translate(252.0 257.7) scale(1 1.035) translate(55.31 0.00) scale(0.02970)" d="M359 0H271V-492H101V-553C200 -557 262 -582 289 -690H359Z" fill="#0000ff" stroke="#0000ff" vector-effect="non-scaling-stroke"/>
</g>
</svg>
</body></html>
